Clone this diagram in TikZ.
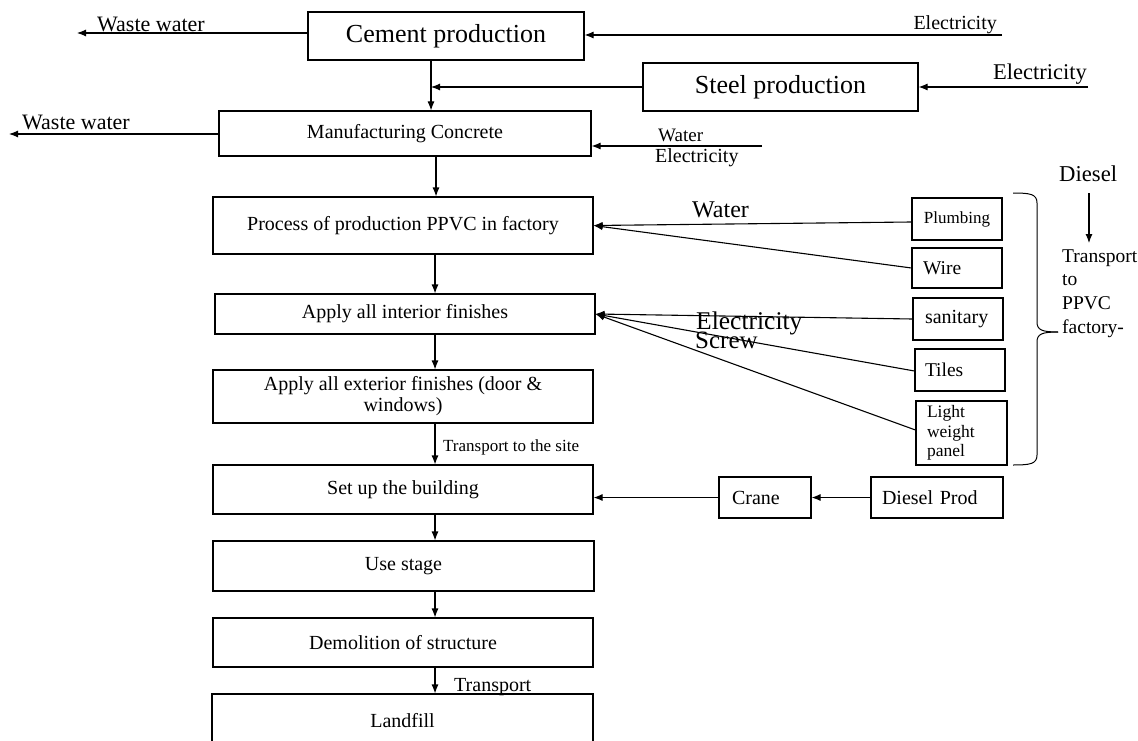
\documentclass[tikz,border=0pt]{standalone}
\usepackage{fontspec}
\setmainfont{Liberation Serif}
\usetikzlibrary{arrows.meta}
\begin{document}
\begin{tikzpicture}[x=1pt,y=-1pt,
  box/.style={draw, line width=1.1pt, inner sep=0pt, align=center},
  lbox/.style={draw, line width=1.1pt, inner ysep=0pt, align=left},
  lab/.style={inner sep=0pt, anchor=base west},
  arr/.style={line width=1.1pt, -{Latex[length=9pt,width=7pt]}},
  ln/.style={line width=1.1pt}]
\useasboundingbox (0,0) rectangle (1138,741);
% main column
\node[box, minimum width=276pt, minimum height=48pt, font=\fontsize{26}{30}\selectfont] (cement) at (446,36) {Cement production};
\node[box, minimum width=275pt, minimum height=48pt, font=\fontsize{26}{30}\selectfont] (steel) at (780.5,87) {Steel production};
\node[box, minimum width=372pt, minimum height=45pt, font=\fontsize{20}{22}\selectfont] (concrete) at (405,133.5) {Manufacturing Concrete};
\node[box, minimum width=380pt, minimum height=57pt, font=\fontsize{20}{22}\selectfont] (ppvc) at (403,225.5) {Process of production PPVC in factory};
\node[box, minimum width=380pt, minimum height=40pt, font=\fontsize{20}{22}\selectfont] (interior) at (405,314) {Apply all interior finishes};
\node[box, minimum width=380pt, minimum height=53pt, font=\fontsize{20}{21}\selectfont] (exterior) at (403,396.5) {Apply all exterior finishes (door \&\\windows)};
\node[box, minimum width=380pt, minimum height=49pt, font=\fontsize{20}{22}\selectfont] (setup) at (403,489.5) {Set up the building};
\node[box, minimum width=381pt, minimum height=50pt, font=\fontsize{20}{22}\selectfont] (use) at (403.5,566) {Use stage};
\node[box, minimum width=380pt, minimum height=49pt, font=\fontsize{20}{22}\selectfont] (demol) at (403,642.5) {Demolition of structure};
\node[box, minimum width=381pt, minimum height=54pt, font=\fontsize{20}{22}\selectfont] (landfill) at (402.5,721) {Landfill};
% right column
\node[box, minimum width=90pt, minimum height=42pt, font=\fontsize{17}{19}\selectfont] (plumbing) at (957,219) {Plumbing};
\node[lbox, text width=68pt, inner xsep=11pt, minimum height=40pt, font=\fontsize{19.5}{22}\selectfont] (wire) at (957,268) {Wire};
\node[lbox, text width=66pt, inner xsep=12pt, minimum height=42pt, font=\fontsize{20}{22}\selectfont] (sanitary) at (958,319) {sanitary};
\node[lbox, text width=70pt, inner xsep=10pt, minimum height=42pt, font=\fontsize{19.5}{22}\selectfont] (tiles) at (960,370) {Tiles};
\node[lbox, text width=69pt, inner xsep=11pt, minimum height=64pt, font=\fontsize{17.5}{19.5}\selectfont] (light) at (961.5,433) {Light\\weight\\panel};
\node[lbox, text width=66pt, inner xsep=13pt, minimum height=41pt, font=\fontsize{20}{22}\selectfont] (crane) at (765,497.5) {Crane};
\node[lbox, text width=110pt, inner xsep=11pt, minimum height=41pt, font=\fontsize{20}{22}\selectfont] (dprod) at (937,497.5) {Diesel Prod};
% labels
\node[lab, font=\fontsize{22}{24}\selectfont] (ww1) at (97,32) {Waste water};
\node[lab, font=\fontsize{22}{24}\selectfont] (ww2) at (22,130) {Waste water};
\node[inner sep=0pt, anchor=base east, font=\fontsize{20}{22}\selectfont] (el1) at (997,30) {Electricity};
\node[inner sep=0pt, anchor=base east, font=\fontsize{22.5}{24}\selectfont] (el2) at (1087,80) {Electricity};
\node[lab, font=\fontsize{19}{21}\selectfont] (wat1) at (658,142) {Water};
\node[lab, font=\fontsize{20}{22}\selectfont] (el3) at (655,163) {Electricity};
\node[lab, font=\fontsize{24}{26}\selectfont] (wat2) at (692,217) {Water};
\node[lab, font=\fontsize{25.5}{27}\selectfont] (el4) at (696,329) {Electricity};
\node[lab, font=\fontsize{25}{27}\selectfont] (screw) at (695,348) {Screw};
\node[lab, font=\fontsize{22.7}{25}\selectfont] (diesel) at (1059,182) {Diesel};
\node[lab, text width=80pt, align=left, font=\fontsize{19.5}{23.7}\selectfont] (tppvc) at (1062,262) {Transport\\to\\PPVC\\factory-};
\node[lab, font=\fontsize{17}{19}\selectfont] (tsite) at (443,451) {Transport to the site};
\node[lab, font=\fontsize{20}{22}\selectfont] (tland) at (454,691) {Transport};
% coordinates
\coordinate (ww1e) at (77,33);
\coordinate (ww2e) at (9,134);
\coordinate (e1s) at (1002,35);
\coordinate (e2s) at (1088,87);
\coordinate (e3s) at (762,146);
\coordinate (cx) at (431,0);
\coordinate (join) at (431,87);
\coordinate (cx2) at (436,0);
\coordinate (spine) at (435,0);
\coordinate (dtop) at (1089,193);
\coordinate (dbot) at (1089,243);
% connectors
\draw[arr] (cement.west |- ww1e) -- (ww1e);
\draw[arr] (concrete.west |- ww2e) -- (ww2e);
\draw[arr] (e1s) -- (cement.east |- e1s);
\draw[arr] (e2s) -- (steel.east |- e2s);
\draw[arr] (e3s) -- (concrete.east |- e3s);
\draw[arr] (steel.west) -- (join);
\draw[arr] (cement.south -| cx) -- (concrete.north -| cx);
\draw[arr] (concrete.south -| cx2) -- (ppvc.north -| cx2);
\draw[arr] ([yshift=-3pt]plumbing.west) -- (ppvc.east);
\draw[arr] (wire.west) -- (ppvc.east);
\draw[arr] (sanitary.west) -- (interior.east);
\draw[arr] ([yshift=-1pt]tiles.west) -- (interior.east);
\draw[arr] ([yshift=3pt]light.west) -- (interior.east);
\draw[arr] (ppvc.south -| spine) -- (interior.north -| spine);
\draw[arr] (interior.south -| spine) -- (exterior.north -| spine);
\draw[arr] (exterior.south -| spine) -- (setup.north -| spine);
\draw[arr] (setup.south -| spine) -- (use.north -| spine);
\draw[arr] (use.south -| spine) -- (demol.north -| spine);
\draw[arr] (demol.south -| spine) -- (landfill.north -| spine);
\draw[arr] (crane.west) -- (setup.east |- crane.west);
\draw[arr] (dprod.west) -- (crane.east);
\draw[arr] (dtop) -- (dbot);
% brace
\draw[line width=1pt] (1013,193) .. controls (1030,193) and (1037,194) .. (1037,203) -- (1037,322) .. controls (1037,330) and (1042,332) .. (1058,332);
\draw[line width=1pt] (1058,332) .. controls (1042,332) and (1037,334) .. (1037,342) -- (1037,455) .. controls (1037,464) and (1030,465) .. (1013,465);
\end{tikzpicture}
\end{document}
